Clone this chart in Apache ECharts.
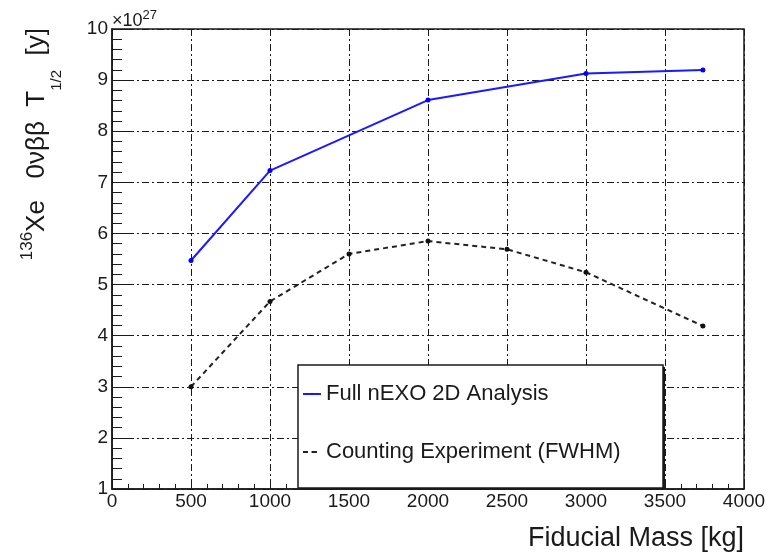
<!DOCTYPE html>
<html>
<head>
<meta charset="utf-8">
<script src="https://cdn.jsdelivr.net/npm/echarts@6/dist/echarts.min.js"></script>
<style>
  html, body { margin: 0; padding: 0; background: #fff; }
  #chart { width: 776px; height: 556px; }
</style>
</head>
<body>
<div id="chart"></div>
<script>
// Fiducial mass scan of the 136Xe 0νββ half-life sensitivity (units of 1e27 yr)
const massFull = [500, 1000, 2000, 3000, 3740];
const halfLifeFull = [5.47, 7.23, 8.61, 9.13, 9.20];

const massCounting = [500, 1000, 1500, 2000, 2500, 3000, 3740];
const halfLifeCounting = [3.00, 4.67, 5.60, 5.85, 5.69, 5.24, 4.19];

const seriesNames = ['Full nEXO 2D Analysis', 'Counting Experiment (FWHM)'];

const xTicks = { min: 0, max: 4000, step: 500 };
const yTicks = { min: 1, max: 10, step: 1 };

const pairs = (xs, ys) => xs.map((x, i) => [x, ys[i]]);

const FONT = '"Liberation Sans", Arial, Helvetica, sans-serif';
const INK = '#1a1a1a';
const gridDash = [7, 3, 2, 3];

const chart = echarts.init(document.getElementById('chart'), null, { renderer: 'canvas' });

chart.setOption({
  animation: false,
  backgroundColor: '#fff',
  textStyle: { fontFamily: FONT },
  grid: {
    left: 112, top: 29, right: 32, bottom: 67,
    show: true, borderColor: INK, borderWidth: 1.5, backgroundColor: 'transparent'
  },
  xAxis: {
    type: 'value',
    min: xTicks.min, max: xTicks.max, interval: xTicks.step,
    axisLine: { show: true, lineStyle: { color: INK, width: 1.5 } },
    axisTick: { show: true, inside: true, length: 10, lineStyle: { color: INK, width: 1 } },
    minorTick: { show: true, splitNumber: 5, length: 5, lineStyle: { color: INK, width: 1 } },
    splitLine: { show: true, lineStyle: { color: INK, width: 1, type: gridDash } },
    axisLabel: { color: INK, fontSize: 19, margin: 3, fontFamily: FONT, formatter: v => String(v) }
  },
  yAxis: {
    type: 'value',
    min: yTicks.min, max: yTicks.max, interval: yTicks.step,
    axisLine: { show: true, lineStyle: { color: INK, width: 1.5 } },
    axisTick: { show: true, inside: true, length: 18, lineStyle: { color: INK, width: 1 } },
    minorTick: { show: true, splitNumber: 5, length: 10, lineStyle: { color: INK, width: 1 } },
    splitLine: { show: true, lineStyle: { color: INK, width: 1, type: gridDash } },
    axisLabel: { color: INK, fontSize: 19, margin: 4, fontFamily: FONT, formatter: v => String(v) }
  },
  legend: {
    orient: 'vertical',
    left: 302, top: 382,
    padding: 0,
    itemGap: 34,
    itemWidth: 18, itemHeight: 2,
    z: 10,
    data: seriesNames,
    textStyle: { color: INK, fontSize: 22, lineHeight: 24, fontFamily: FONT }
  },
  graphic: [
    {
      // legend frame: solid drop shadow, then white box on top
      type: 'rect', z: 5,
      shape: { x: 300, y: 367, width: 365, height: 123 },
      style: { fill: INK }
    },
    {
      type: 'rect', z: 5,
      shape: { x: 298, y: 365, width: 365, height: 123 },
      style: { fill: '#fff', stroke: INK, lineWidth: 1.5 }
    },
    {
      type: 'text', z: 6,
      x: 112, y: 21,
      style: {
        text: '×10{s|27}',
        fill: INK, font: '18px ' + FONT,
        align: 'left', verticalAlign: 'middle',
        rich: { s: { fontSize: 13, lineHeight: 13, padding: [0, 0, 12, 0], fontFamily: FONT, fill: INK } }
      }
    },
    {
      type: 'text', z: 6,
      x: 744, y: 539,
      style: {
        text: 'Fiducial Mass [kg]',
        fill: INK, font: '27px ' + FONT,
        align: 'right', verticalAlign: 'middle'
      }
    },
    {
      type: 'text', z: 6,
      x: 37, y: 28,
      rotation: Math.PI / 2,
      style: {
        text: '{sup|136}{m|Xe   0νββ  T}{sub|1/2}{m|  [y]}',
        fill: INK,
        align: 'right', verticalAlign: 'middle',
        rich: {
          m: { fontSize: 26, lineHeight: 57, fontFamily: FONT, fill: INK },
          sup: { fontSize: 17, lineHeight: 17, padding: [0, 0, 20, 0], fontFamily: FONT, fill: INK },
          sub: { fontSize: 15, lineHeight: 15, padding: [40, 0, 0, 0], fontFamily: FONT, fill: INK }
        }
      }
    }
  ],
  series: [
    {
      name: seriesNames[1],
      type: 'line',
      z: 2,
      data: pairs(massCounting, halfLifeCounting),
      symbol: 'circle', symbolSize: 5,
      itemStyle: { color: '#111' },
      lineStyle: { color: '#222', width: 2, type: [5, 4] }
    },
    {
      name: seriesNames[0],
      type: 'line',
      z: 3,
      data: pairs(massFull, halfLifeFull),
      symbol: 'circle', symbolSize: 5,
      itemStyle: { color: '#0000ff' },
      lineStyle: { color: '#1a1aff', width: 2 }
    }
  ]
});
</script>
</body>
</html>
